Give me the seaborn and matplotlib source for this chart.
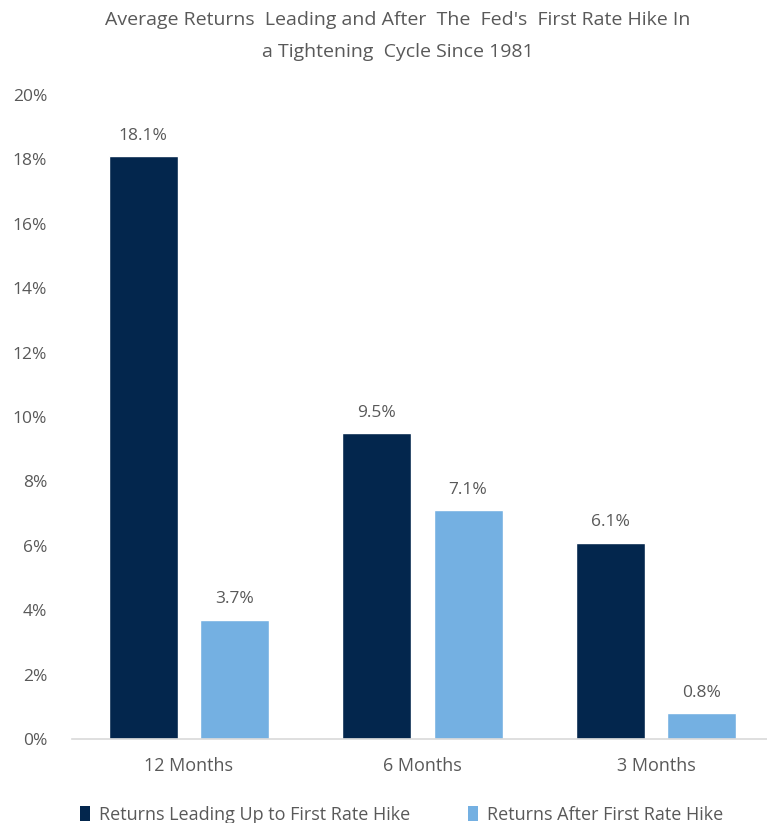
import matplotlib
matplotlib.use("Agg")
import matplotlib.pyplot as plt
import seaborn as sns
import pandas as pd
from matplotlib.patches import Patch

categories = ["12 Months", "6 Months", "3 Months"]
leading_up = [18.1, 9.5, 6.1]
after_hike = [3.7, 7.1, 0.8]
series_names = ["Returns Leading Up to First Rate Hike", "Returns After First Rate Hike"]
yticks = [0, 2, 4, 6, 8, 10, 12, 14, 16, 18, 20]
title = "Average Returns  Leading and After  The  Fed's  First Rate Hike In\na Tightening  Cycle Since 1981"

df = pd.DataFrame({
    "period": categories * 2,
    "value": leading_up + after_hike,
    "series": [series_names[0]] * 3 + [series_names[1]] * 3,
})

sns.set_theme(style="white")
plt.rcParams["font.family"] = ["Open Sans", "DejaVu Sans"]
colors = ["#03264D", "#74B0E2"]
gray = "#595959"

W, H = 767, 823
fig = plt.figure(figsize=(W / 100, H / 100), dpi=100)
left, right, top, bottom = 72, 773, 95, 739
ax = fig.add_axes([left / W, 1 - bottom / H, (right - left) / W, (bottom - top) / H])

sns.barplot(data=df, x="period", y="value", hue="series", order=categories,
            hue_order=series_names, palette=colors, width=0.779, gap=0.242,
            ax=ax, legend=False, saturation=1)

for cont in ax.containers:
    ax.bar_label(cont, fmt="%.1f%%", padding=9, fontsize=12.5, color=gray)

ax.set_ylim(0, 20)
ax.set_xlim(-0.5, 2.5)
ax.set_yticks(yticks)
ax.set_yticklabels([f"{v}%" for v in yticks])
ax.tick_params(axis="y", length=0, pad=18, labelsize=12.5, labelcolor=gray)
ax.tick_params(axis="x", length=0, pad=13, labelsize=13, labelcolor=gray)
ax.set_xlabel("")
ax.set_ylabel("")
for s in ["top", "right", "left"]:
    ax.spines[s].set_visible(False)
ax.spines["bottom"].set_color("#d9d9d9")
ax.spines["bottom"].set_linewidth(1.2)
ax.grid(False)

fig.text(398 / W, 1 - 36 / H, title, ha="center", va="center", fontsize=14,
         color=gray, linespacing=1.95)

handles = [Patch(facecolor=c, edgecolor="none") for c in colors]
fig.legend(handles, series_names, loc="center", bbox_to_anchor=(402 / W, 1 - 815 / H),
           ncol=2, frameon=False, fontsize=13, labelcolor=gray,
           handlelength=0.55, handleheight=0.9, handletextpad=0.5, columnspacing=3.2)

fig.savefig("out.png", dpi=100)
